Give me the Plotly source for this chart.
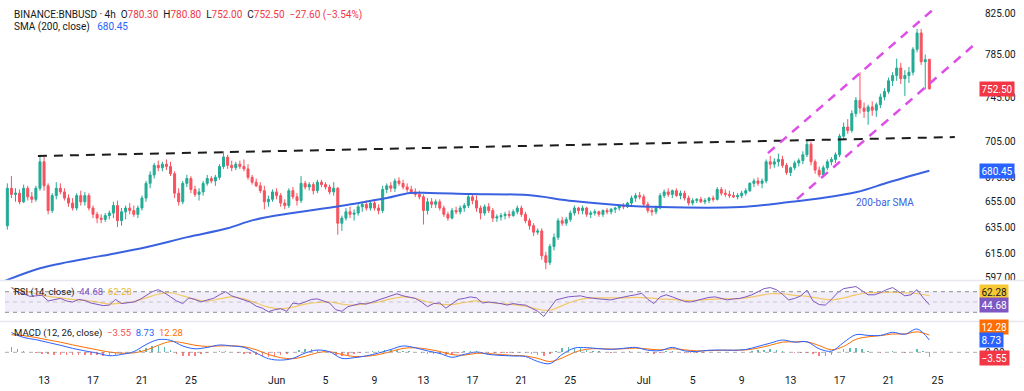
import numpy as np
import pandas as pd
import plotly.graph_objects as go

# ---------------- data ----------------
# 8h candles, first bar 2025-05-10 00:00
bar_start = "2025-05-10 00:00"
opens = [
    636, 666, 661, 662, 655, 666, 659, 657, 666, 688, 668, 648, 660, 666, 663,
    658, 654, 650, 660, 655, 660, 650, 645, 642, 641, 644, 646, 652, 640, 647,
    650, 648, 645, 650, 658, 670, 677, 685, 683, 686, 684, 678, 662, 655, 670,
    674, 665, 661, 663, 670, 674, 672, 675, 684, 692, 685, 683, 686, 684, 682,
    675, 671, 668, 664, 655, 657,
    663, 660, 654, 652, 664, 659, 656, 670, 667, 669, 664, 671, 669, 667, 663,
    666, 638, 642, 647, 645, 646, 651, 653, 650, 654, 650, 648, 665, 668, 666,
    672, 670, 667, 665, 663, 661, 659, 648, 655, 653, 655, 650, 645, 642, 648,
    647, 650, 652, 659, 656, 650, 646, 651, 648, 642, 643, 644, 645, 644, 647,
    650, 645, 640, 636, 631, 632, 613, 608, 620, 627, 640, 638, 641, 646, 650,
    648, 650, 645, 646, 647, 645, 648, 647, 649, 650, 652, 651, 654, 658, 660,
    659, 653, 648, 647, 650, 660, 663, 661, 664, 660, 662, 658, 654, 656, 657,
    655, 656, 658, 657, 665, 662, 661, 660, 659, 660, 662, 664, 670, 672, 670,
    672, 688, 686, 688, 690, 685, 679, 683, 687, 689, 694, 703, 688, 681, 677,
    683, 688, 690, 694, 710, 718, 715, 730, 742, 735, 732, 736, 733, 738, 745,
    750, 760, 765, 772, 762, 765, 768, 790, 806, 778, 780.3,
]
highs = [
    670, 676, 666, 665, 669, 668, 663, 668, 693, 692, 670, 662, 671, 670, 666,
    661, 658, 662, 664, 663, 662, 652, 647, 645, 646, 648, 655, 656, 650, 652,
    654, 652, 652, 660, 672, 680, 687, 689, 688, 690, 688, 680, 666, 672, 677,
    676, 668, 666, 672, 677, 676, 677, 686, 697, 694, 689, 688, 689, 690, 686,
    677, 674, 671, 668, 660, 665,
    666, 662, 657, 666, 667, 662, 676, 672, 671, 671, 673, 673, 671, 669, 671,
    667, 644, 650, 651, 649, 653, 655, 656, 655, 657, 653, 668, 670, 671, 674,
    675, 673, 670, 668, 666, 664, 661, 658, 658, 657, 657, 652, 647, 650, 651,
    652, 654, 661, 661, 660, 652, 653, 654, 650, 645, 646, 647, 648, 649, 652,
    652, 647, 642, 638, 634, 634, 616, 622, 630, 642, 643, 643, 648, 652, 651,
    652, 651, 648, 649, 648, 649, 650, 650, 651, 653, 654, 655, 660, 662, 663,
    661, 655, 650, 652, 662, 665, 666, 665, 666, 664, 664, 660, 658, 658, 659,
    658, 659, 660, 667, 667, 665, 664, 663, 662, 664, 666, 671, 674, 675, 674,
    690, 693, 691, 695, 693, 687, 684, 689, 691, 697, 706, 705, 690, 684, 685,
    690, 692, 696, 712, 722, 725, 733, 745, 768, 740, 738, 741, 740, 748, 753,
    763, 768, 781, 777, 770, 773, 792, 810, 810, 785, 780.8,
]
lows = [
    633, 658, 655, 653, 654, 656, 654, 655, 664, 664, 645, 646, 657, 661, 656,
    651, 648, 648, 652, 652, 648, 642, 638, 638, 639, 641, 642, 635, 636, 641,
    645, 643, 642, 648, 655, 666, 674, 680, 680, 681, 676, 658, 652, 653, 667,
    662, 659, 656, 660, 668, 670, 668, 673, 682, 682, 680, 681, 682, 680, 673,
    669, 667, 662, 649, 651, 655,
    657, 651, 649, 650, 657, 652, 654, 665, 664, 661, 662, 667, 665, 661, 660,
    629, 632, 640, 642, 640, 644, 647, 648, 648, 648, 645, 646, 662, 663, 663,
    668, 665, 663, 662, 659, 657, 637, 645, 650, 650, 648, 643, 640, 641, 645,
    645, 647, 650, 653, 647, 641, 644, 646, 639, 639, 640, 641, 642, 643, 645,
    643, 638, 633, 628, 629, 610, 603, 606, 617, 625, 636, 636, 639, 644, 645,
    645, 643, 642, 644, 643, 643, 645, 645, 646, 648, 649, 650, 652, 655, 657,
    651, 646, 644, 645, 649, 658, 659, 658, 659, 657, 656, 652, 652, 654, 654,
    653, 654, 655, 656, 660, 659, 658, 658, 657, 658, 660, 663, 667, 668, 666,
    670, 682, 683, 684, 683, 677, 676, 681, 684, 686, 692, 685, 678, 675, 676,
    681, 685, 687, 692, 707, 712, 713, 727, 730, 726, 720, 728, 727, 735, 742,
    748, 755, 760, 757, 746, 758, 765, 787, 775, 752, 752.0,
]
closes = [
    666, 661, 662, 655, 666, 659, 657, 666, 688, 668, 648, 660, 666, 663, 658,
    654, 650, 660, 655, 660, 650, 645, 642, 641, 644, 646, 652, 640, 647, 650,
    648, 645, 650, 658, 670, 677, 685, 683, 686, 684, 678, 662, 655, 670, 674,
    665, 661, 663, 670, 674, 672, 675, 684, 692, 685, 683, 686, 684, 682, 675,
    671, 668, 664, 655, 657, 663,
    660, 654, 652, 664, 659, 656, 670, 667, 669, 664, 671, 669, 667, 663, 666,
    638, 642, 647, 645, 646, 651, 653, 650, 654, 650, 648, 665, 668, 666, 672,
    670, 667, 665, 663, 661, 659, 648, 655, 653, 655, 650, 645, 642, 648, 647,
    650, 652, 659, 656, 650, 646, 651, 648, 642, 643, 644, 645, 644, 647, 650,
    645, 640, 636, 631, 632, 613, 608, 620, 627, 640, 638, 641, 646, 650, 648,
    650, 645, 646, 647, 645, 648, 647, 649, 650, 652, 651, 654, 658, 660, 659,
    653, 648, 647, 650, 660, 663, 661, 664, 660, 662, 658, 654, 656, 657, 655,
    656, 658, 657, 665, 662, 661, 660, 659, 660, 662, 664, 670, 672, 670, 672,
    688, 686, 688, 690, 685, 679, 683, 687, 689, 694, 703, 688, 681, 677, 683,
    688, 690, 694, 710, 718, 715, 730, 742, 735, 732, 736, 733, 738, 745, 750,
    760, 765, 772, 762, 765, 768, 790, 806, 778, 780, 752.5,
]

# 200-bar SMA, read at points along the curve
sma_dates = ["2025-05-09 20:00", "2025-05-12 16:00", "2025-05-14 22:00", "2025-05-17 14:00",
             "2025-05-21 10:00", "2025-05-24 17:00", "2025-05-28 00:00", "2025-05-30 02:00",
             "2025-06-02 07:00", "2025-06-06 05:00", "2025-06-07 05:00", "2025-06-10 00:00",
             "2025-06-11 22:00", "2025-06-13 12:00", "2025-06-16 19:00", "2025-06-21 12:00",
             "2025-06-25 05:00", "2025-06-29 02:00", "2025-07-02 07:00", "2025-07-08 22:00",
             "2025-07-12 22:00", "2025-07-15 14:00", "2025-07-18 10:00", "2025-07-21 02:00",
             "2025-07-24 08:00"]
sma_values = [594.5, 603.7, 608.2, 612.7, 619.6, 627.2, 634.1, 640.4, 646.0, 651.6, 653.2,
              658.0, 662.1, 662.1, 661.3, 660.4, 655.6, 652.3, 650.8, 650.8, 654.8, 658.0,
              662.9, 671.1, 680.45]

# RSI(14), 12h samples from 2025-05-10 08:00
rsi_start = "2025-05-10 08:00"
rsi = [78, 70, 66, 61, 62, 63, 52, 55, 57, 52, 50, 55, 53, 48, 45, 43, 44, 55, 47, 49,
       50, 55, 62, 70, 74, 68, 60, 52, 47, 58, 55, 50, 54, 57, 64, 70, 62, 58, 55, 50,
       42, 38, 31, 35, 37, 32, 48, 46, 50, 55, 56, 52, 48, 35, 32, 41, 44, 47, 46, 50,
       53, 57, 62, 66, 62, 60, 57, 50, 41, 47, 48, 38, 47, 55, 57, 60, 58, 48, 50, 49,
       47, 44, 47, 45, 44, 38, 32, 22, 37, 54, 57, 60, 61, 62, 59, 57, 56, 55, 54, 57,
       60, 62, 64, 67, 55, 47, 60, 64, 60, 56, 51, 50, 53, 56, 59, 60, 57, 54, 56, 57,
       60, 64, 70, 76, 78, 74, 65, 54, 57, 62, 73, 52, 45, 44, 55, 68, 76, 78, 80, 72,
       64, 64, 68, 74, 78, 70, 62, 64, 74, 58, 44.68]
# RSI-based MA, MACD and signal, daily samples from 2025-05-10 08:00
daily_start = "2025-05-10 08:00"
rsi_ma = [78, 72, 66, 61, 58, 55, 53, 50, 46, 48, 51, 58, 65, 68, 62, 55, 52, 56, 60, 56,
          48, 40, 37, 40, 46, 49, 50, 46, 44, 47, 50, 56, 60, 57, 50, 46, 45, 49, 52, 49,
          47, 45, 42, 36, 34, 43, 52, 57, 58, 58, 58, 59, 58, 56, 55, 53, 53, 55, 56, 56,
          58, 62, 66, 66, 63, 61, 57, 54, 58, 64, 68, 68, 69, 68, 66, 62.28]
macd = [14, 10.5, 9, 7, 5, 2.8, 1, -0.5, -2.4, -1.5, 0.5, 5.5, 9, 8.5, 4.5, 2.5, 3.5, 5.2, 4.5, 3.5,
        -0.5, -4.5, -5.5, -4.3, -0.5, 1.6, 0.4, -4.3, -3.8, -2.5, -0.5, 2, 4.5, 3.2, 1, -0.8, -3.5,
        -1.5, 0.2, -1.5, -2.2, -2.6, -3, -6.5, -8, -1.5, 3, 3.3, 2.6, 2.1, 2.8, 3.5, 1.5, 1.2, 3.5,
        1, 0.6, 1.5, 1.6, 1.5, 2, 4.2, 6.5, 8.7, 7.2, 7.5, 2.5, 0.8, 7, 12.5, 12, 12, 14.2, 12.8,
        16.5, 8.73]
signal = [12.5, 11.8, 10.5, 8.8, 7.2, 5.3, 3.5, 1.8, 0.2, -0.6, -0.4, 1.5, 5, 7.6, 6.8, 5, 4.2,
          4.5, 4.6, 4, 1.8, -1.5, -3.8, -4.5, -2.8, -0.3, 0.4, -1.5, -3, -2.8, -1.6, 0.5, 2.8,
          3.2, 2.2, 0.6, -1.6, -2, -0.7, -0.9, -1.6, -2.2, -2.6, -4.3, -6.5, -4, 0, 2.2, 2.6,
          2.3, 2.5, 3, 2.4, 1.7, 2.5, 1.8, 1, 1.2, 1.5, 1.5, 1.7, 3, 5, 7.2, 7.4, 7.4, 4.8, 1.8,
          4.2, 9.2, 11, 11.8, 13, 13, 14.5, 12.28]
# MACD histogram, 12h samples from 2025-05-10 08:00
hist = [3.5, 2.5, 1.2, 0.2, -0.8, -1.2, -1.5, -1.6, -1.8, -2.0,
        -2.2, -2, -1.8, -1.8, -2.2, -2.5, -2.6, -1.8, -1.2, -0.6,
        0.5, 2.0, 3.2, 4.2, 4.5, 3.5, 1.5, -1.2, -2.3, -2.8,
        -2.5, -1.5, -0.5, 0.3, 0.8, 0.9, 0.3, -0.4, -0.9, -1.5,
        -2.2, -2.8, -3, -2.5, -1.8, -1.0, 0.2, 1.5, 2.2, 2.3,
        2.0, 0.8, 0.0, -2.0, -2.8, -2.2, -1.2, -0.5, 0.3, 0.8,
        1.2, 1.5, 1.6, 1.8, 1.2, 0.6, 0.0, -0.6, -1.2, -1.5,
        -1.4, -1.8, -1.2, -0.2, 0.6, 0.9, 0.9, -0.2, -0.5, -0.4,
        -0.6, -0.8, -0.5, -0.6, -0.8, -1.5, -2.2, -2.8, -1.5, 1.0,
        2.8, 3.6, 3.4, 2.8, 2.0, 1.2, 0.6, 0.2, -0.2, 0.2,
        0.4, 0.6, 0.5, 0.2, -0.8, -1.2, -0.2, 0.6, 0.9, 0.2,
        -0.4, -0.6, -0.5, -0.2, 0.2, 0.3, 0.2, 0.0, 0.2, 0.3,
        0.5, 1.0, 1.6, 1.9, 2.1, 1.6, 1.2, 0.2, -0.5, -0.6,
        -0.3, -1.5, -2.4, -2.6, -1.8, 0.5, 2.2, 3.0, 3.2, 2.6,
        1.2, 0.4, -0.3, 0.4, 0.9, 0.5, -0.4, 0.2, 2.4, 0.6,
        -3.55]

# drawn trend lines (endpoints)
resist_dates = ["2025-05-12 12:00", "2025-07-26 10:00"]
resist_prices = [692.9, 709.2]
chan_up_dates = ["2025-07-11 03:30", "2025-07-24 19:00"]
chan_up_prices = [695.4, 831.1]
chan_lo_dates = ["2025-07-13 12:30", "2025-07-28 01:30"]
chan_lo_prices = [657.2, 795.1]

price_ticks = [597, 615, 635, 655, 675, 705, 745, 785, 825]
x_tick_dates = ["2025-05-13", "2025-05-17", "2025-05-21", "2025-05-25", "2025-06-01",
                "2025-06-05", "2025-06-09", "2025-06-13", "2025-06-17", "2025-06-21",
                "2025-06-25", "2025-07-01", "2025-07-05", "2025-07-09", "2025-07-13",
                "2025-07-17", "2025-07-21", "2025-07-25"]
x_tick_text = ["13", "17", "21", "25", "Jun", "5", "9", "13", "17", "21", "25", "Jul",
               "5", "9", "13", "17", "21", "25"]

last_price = closes[-1]
sma_last = sma_values[-1]
rsi_last, rsi_ma_last = rsi[-1], rsi_ma[-1]
macd_last, signal_last, hist_last = macd[-1], signal[-1], hist[-1]

# ---------------- figure ----------------
FONT = "Roboto, Arial, sans-serif"
TXT = "#131722"
UP, DOWN = "#22ab94", "#f7525f"

bar_dates = pd.date_range(bar_start, periods=len(closes), freq="8h")
rsi_dates = pd.date_range(rsi_start, periods=len(rsi), freq="12h")
day_dates = pd.date_range(daily_start, periods=len(macd), freq="24h")
hist_dates = pd.date_range(rsi_start, periods=len(hist), freq="12h")

fig = go.Figure()

fig.add_trace(go.Candlestick(
    x=bar_dates, open=opens, high=highs, low=lows, close=closes,
    increasing=dict(line=dict(color=UP, width=1), fillcolor=UP),
    decreasing=dict(line=dict(color=DOWN, width=1), fillcolor=DOWN),
    xaxis="x", yaxis="y", showlegend=False, hoverinfo="skip"))

fig.add_trace(go.Scatter(x=pd.to_datetime(sma_dates), y=sma_values, mode="lines",
                         line=dict(color="#3a62e0", width=2, shape="spline"),
                         xaxis="x", yaxis="y", showlegend=False, hoverinfo="skip"))

for dts, prs, col, w in [(resist_dates, resist_prices, "#1c1c1c", 2),
                         (chan_up_dates, chan_up_prices, "#dd4fe6", 2.5),
                         (chan_lo_dates, chan_lo_prices, "#dd4fe6", 2.5)]:
    fig.add_trace(go.Scatter(x=pd.to_datetime(dts), y=prs, mode="lines",
                             line=dict(color=col, width=w, dash="9px,7px"),
                             xaxis="x", yaxis="y", showlegend=False, hoverinfo="skip"))

# RSI pane
fig.add_trace(go.Scatter(x=day_dates, y=rsi_ma, mode="lines",
                         line=dict(color="#f3c865", width=1.2, shape="spline"),
                         xaxis="x2", yaxis="y2", showlegend=False, hoverinfo="skip"))
fig.add_trace(go.Scatter(x=rsi_dates, y=rsi, mode="lines",
                         line=dict(color="#7e57c2", width=1),
                         xaxis="x2", yaxis="y2", showlegend=False, hoverinfo="skip"))

# MACD pane
hist_colors = ["rgba(38,166,154,0.75)" if v >= 0 else "rgba(255,82,82,0.75)" for v in hist]
fig.add_trace(go.Bar(x=hist_dates, y=hist, marker=dict(color=hist_colors, line=dict(width=0)),
                     width=3 * 3600 * 1000, xaxis="x3", yaxis="y3", showlegend=False,
                     hoverinfo="skip"))
fig.add_trace(go.Scatter(x=day_dates, y=signal, mode="lines",
                         line=dict(color="#ff6d00", width=1, shape="spline"),
                         xaxis="x3", yaxis="y3", showlegend=False, hoverinfo="skip"))
fig.add_trace(go.Scatter(x=day_dates, y=macd, mode="lines",
                         line=dict(color="#2962ff", width=1, shape="spline"),
                         xaxis="x3", yaxis="y3", showlegend=False, hoverinfo="skip"))

H = 366.0
main_dom = [(H - 280) / H, 1.0]
rsi_dom = [(H - 321) / H, (H - 281) / H]
macd_dom = [0.0, (H - 322) / H]
x_range = ["2025-05-09 19:26", "2025-07-28 07:26"]

common_x = dict(range=x_range, showgrid=False, zeroline=False, showline=False, type="date",
                automargin=False)
fig.update_layout(
    template="none",
    width=1024, height=391,
    margin=dict(l=5, r=46, t=0, b=25, pad=0),
    paper_bgcolor="white", plot_bgcolor="white",
    font=dict(family=FONT, size=10, color=TXT),
    xaxis=dict(common_x, domain=[0, 1], anchor="y", showticklabels=False, ticks="",
               rangeslider=dict(visible=False)),
    xaxis2=dict(common_x, domain=[0, 1], anchor="y2", matches="x", showticklabels=False,
                ticks=""),
    xaxis3=dict(common_x, domain=[0, 1], anchor="y3", matches="x",
                tickvals=pd.to_datetime(x_tick_dates), ticktext=x_tick_text,
                ticks="outside", ticklen=4, tickcolor="rgba(0,0,0,0)",
                tickfont=dict(size=10.5, color=TXT)),
    yaxis=dict(domain=main_dom, anchor="x", type="log", side="right", automargin=False,
               range=[np.log10(595.0), np.log10(839.3)],
               tickvals=price_ticks, ticktext=[f"{v:.2f}" for v in price_ticks],
               ticks="outside", ticklen=4, tickcolor="rgba(0,0,0,0)",
               showgrid=False, zeroline=False, showline=False,
               tickfont=dict(size=10, color=TXT)),
    yaxis2=dict(domain=rsi_dom, anchor="x2", side="right", range=[13.1, 90.8],
                automargin=False, showticklabels=False, ticks="", showgrid=False,
                zeroline=False, showline=False),
    yaxis3=dict(domain=macd_dom, anchor="x3", side="right", range=[-9.7, 21.5],
                automargin=False, tickvals=[0], ticktext=["0.00"], ticks="outside",
                ticklen=4, tickcolor="rgba(0,0,0,0)", showgrid=False, zeroline=False,
                showline=False, tickfont=dict(size=10, color=TXT)),
    bargap=0,
)

shapes = [
    dict(type="rect", xref="paper", x0=0, x1=1, yref="y2", y0=30, y1=70,
         fillcolor="rgba(126,87,194,0.10)", line=dict(width=0), layer="below"),
    dict(type="line", xref="paper", x0=0, x1=1, yref="y2", y0=70, y1=70,
         line=dict(color="#8a8d96", width=1, dash="4px,4px")),
    dict(type="line", xref="paper", x0=0, x1=1, yref="y2", y0=30, y1=30,
         line=dict(color="#8a8d96", width=1, dash="4px,4px")),
    dict(type="line", xref="paper", x0=0, x1=1, yref="y2", y0=50, y1=50,
         line=dict(color="rgba(138,141,150,0.45)", width=1, dash="4px,4px")),
    dict(type="line", xref="paper", x0=0, x1=1, yref="y3", y0=0, y1=0,
         line=dict(color="rgba(138,141,150,0.7)", width=1, dash="4px,4px")),
    dict(type="line", xref="paper", x0=0, x1=1, yref="y",
         y0=np.log10(last_price), y1=np.log10(last_price),
         line=dict(color="#f23645", width=1, dash="1px,2px")),
]
for py in (280.5, 321.5):
    yp = (H - py) / H
    shapes.append(dict(type="line", xref="paper", x0=-5 / 973, x1=1019 / 973,
                       yref="paper", y0=yp, y1=yp, line=dict(color="#e6e8ee", width=1.5)))
fig.update_layout(shapes=shapes)

RED, BLUE = "#f23645", "#2962ff"
ann = []
def sp(t, c):
    return f"<span style='color:{c}'>{t}</span>"

ann.append(dict(xref="paper", yref="paper", x=7 / 973, y=(H - 15) / H, xanchor="left",
                yanchor="middle", showarrow=False, font=dict(size=10, color=TXT),
                text="BINANCE:BNBUSD · 4h&nbsp; O" + sp(f"{opens[-1]:.2f}", RED) +
                     "&nbsp; H" + sp(f"{highs[-1]:.2f}", RED) +
                     "&nbsp; L" + sp(f"{lows[-1]:.2f}", RED) +
                     "&nbsp; C" + sp(f"{last_price:.2f}", RED) +
                     "&nbsp; " + sp("−27.60 (−3.54%)", RED)))
ann.append(dict(xref="paper", yref="paper", x=7 / 973, y=(H - 27) / H, xanchor="left",
                yanchor="middle", showarrow=False, font=dict(size=10, color=TXT),
                text="SMA (200, close)&nbsp;&nbsp; " + sp(f"{sma_last:.2f}", BLUE)))
ann.append(dict(xref="paper", yref="paper", x=7 / 973, y=(H - 292) / H, xanchor="left",
                yanchor="middle", showarrow=False, font=dict(size=9.5, color=TXT),
                text="RSI (14, close)&nbsp; " + sp(f"{rsi_last:.2f}", "#7e57c2") +
                     "&nbsp; " + sp(f"{rsi_ma_last:.2f}", "#e8b830")))
ann.append(dict(xref="paper", yref="paper", x=7 / 973, y=(H - 333) / H, xanchor="left",
                yanchor="middle", showarrow=False, font=dict(size=9.5, color=TXT),
                text="MACD (12, 26, close)&nbsp; " + sp(f"{hist_last:.2f}".replace("-", "−"), "#ef5350") +
                     "&nbsp; " + sp(f"{macd_last:.2f}", BLUE) +
                     "&nbsp; " + sp(f"{signal_last:.2f}", "#ff6d00")))
ann.append(dict(x=pd.Timestamp("2025-07-20 17:00"), y=np.log10(654.8), xref="x", yref="y",
                text="200-bar SMA", showarrow=False, font=dict(size=10, color="#3a62e0")))

def box(val, yref, yv, bg, fg="white", yshift=0):
    return dict(xref="paper", x=1, xanchor="left", xshift=1, yref=yref, y=yv,
                yanchor="middle", yshift=yshift, showarrow=False,
                text=f"{val:.2f}".replace("-", "−"), bgcolor=bg, borderpad=1.5,
                font=dict(size=10, color=fg))

ann += [
    box(last_price, "y", np.log10(last_price), "#f23645"),
    box(sma_last, "y", np.log10(sma_last), "#2962ff"),
    box(rsi_ma_last, "y2", rsi_ma_last, "#f7c934", fg=TXT, yshift=4),
    box(rsi_last, "y2", rsi_last, "#7e57c2"),
    box(signal_last, "y3", signal_last, "#ff6d00", yshift=8),
    box(macd_last, "y3", macd_last, "#2962ff"),
    box(hist_last, "y3", hist_last, "#f23645", yshift=-1),
]
fig.update_layout(annotations=ann)

fig.write_html("out.html", config={"displayModeBar": False},
               post_script="document.body.style.margin='0px';"
                           "document.body.style.overflow='hidden';")
